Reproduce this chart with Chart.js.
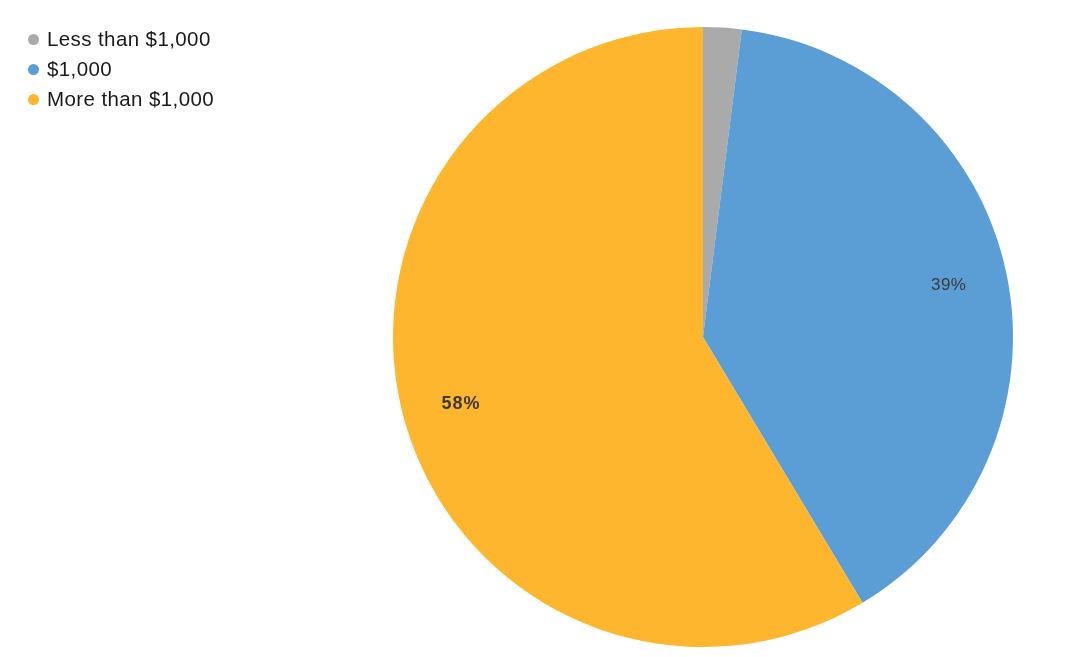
<!DOCTYPE html>
<html>
<head>
<meta charset="utf-8">
<script src="https://cdn.jsdelivr.net/npm/chart.js@4/dist/chart.umd.min.js"></script>
<style>
  body { margin: 0; background: #fff; font-family: "Liberation Sans", Arial, sans-serif; }
  #wrap { position: relative; width: 1087px; height: 657px; }
  #legend { position: absolute; left: 28px; top: 26px; list-style: none; margin: 0; padding: 0; }
  #legend li { height: 30px; line-height: 26px; font-size: 20.5px; letter-spacing: 0.4px; color: #1a1a1a; white-space: nowrap; }
  #legend .dot { display: inline-block; width: 11px; height: 11px; border-radius: 50%; margin-right: 8px; vertical-align: 1px; }
</style>
</head>
<body>
<div id="wrap">
  <canvas id="pie"></canvas>
  <ul id="legend"></ul>
</div>
<script>
// Data
const categories = ['Less than $1,000', '$1,000', 'More than $1,000'];
const shares = [2.0, 39.4, 58.6];
const colors = ['#aaaaaa', '#5b9ed5', '#fdb62d'];
const showLabel = [false, true, true];

// Legend as plain HTML
const legendEl = document.getElementById('legend');
categories.forEach((name, i) => {
  const li = document.createElement('li');
  li.innerHTML = `<span class="dot" style="background:${colors[i]}"></span>${name}`;
  legendEl.appendChild(li);
});

// Percent labels inside slices
const sliceLabels = {
  id: 'sliceLabels',
  afterDatasetsDraw(chart) {
    const { ctx } = chart;
    const meta = chart.getDatasetMeta(0);
    const total = shares.reduce((a, b) => a + b, 0);
    meta.data.forEach((arc, i) => {
      if (!showLabel[i]) return;
      const { x, y, startAngle, endAngle, outerRadius } = arc.getProps(['x', 'y', 'startAngle', 'endAngle', 'outerRadius'], true);
      const mid = (startAngle + endAngle) / 2;
      const r = outerRadius * 0.81;
      const text = Math.floor(shares[i] / total * 100) + '%';
      ctx.save();
      ctx.font = i === 2 ? 'bold 18px "Liberation Sans", Arial, sans-serif' : '17px "Liberation Sans", Arial, sans-serif';
      ctx.letterSpacing = i === 2 ? '1px' : '0.5px';
      ctx.fillStyle = '#3b3b3b';
      ctx.textAlign = 'center';
      ctx.textBaseline = 'middle';
      ctx.fillText(text, x + Math.cos(mid) * r, y + Math.sin(mid) * r);
      ctx.restore();
    });
  }
};

new Chart(document.getElementById('pie'), {
  type: 'pie',
  data: {
    labels: categories,
    datasets: [{
      data: shares,
      backgroundColor: colors,
      borderWidth: 0
    }]
  },
  options: {
    responsive: true,
    maintainAspectRatio: false,
    animation: false,
    layout: { padding: { left: 319, right: 0, top: 27, bottom: 10 } },
    plugins: {
      legend: { display: false },
      tooltip: { enabled: false }
    }
  },
  plugins: [sliceLabels]
});
</script>
</body>
</html>
